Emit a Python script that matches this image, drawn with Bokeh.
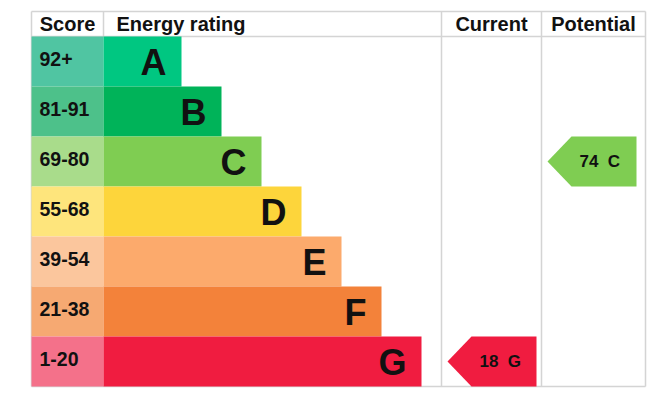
from bokeh.plotting import figure
from bokeh.models import Range1d, ColumnDataSource
from bokeh.embed import file_html
from bokeh.resources import INLINE
from bokeh.core.properties import value

# ---- data ----
bands = ["A", "B", "C", "D", "E", "F", "G"]
score_ranges = ["92+", "81-91", "69-80", "55-68", "39-54", "21-38", "1-20"]
bar_colors = ["#00c781", "#00b359", "#7fcd52", "#fdd53b", "#fcaa6c", "#f3823a", "#f01c40"]
score_colors = ["#50c5a2", "#4dc18a", "#a9dc8b", "#fee57c", "#fbc69d", "#f6a972", "#f4718a"]
headers = ["Score", "Energy rating", "Current", "Potential"]
current_score, current_band = 18, "G"
potential_score, potential_band = 74, "C"

# ---- layout (pixels) ----
TABLE_L, SCORE_R, CUR_L, POT_L, TABLE_R = 31, 103, 441, 541, 645
BAR_MIN, BAR_STEP = 78, 40
ARROW_INSET, ARROW_W, NOTCH = 6, 89, 24
FONT = value("Liberation Sans")
INK = "#111111"
GRID = "#d4d4d4"

p = figure(width=652, height=392, x_range=Range1d(0, 652), y_range=Range1d(6.62, -1.22),
           output_backend="svg", toolbar_location=None, min_border=0)
p.axis.visible = False
p.xgrid.visible = False
p.ygrid.visible = False
p.outline_line_color = None
p.background_fill_color = "white"
p.border_fill_color = "white"

n = len(bands)
top_h, head_b, bot = -1.0, -0.5, n - 0.5

# grid lines
gx0 = [TABLE_L, TABLE_L, TABLE_L, TABLE_L, SCORE_R, CUR_L, POT_L, TABLE_R]
gx1 = [TABLE_R, TABLE_R, TABLE_R, TABLE_L, SCORE_R, CUR_L, POT_L, TABLE_R]
gy0 = [top_h, head_b, bot, top_h, top_h, top_h, top_h, top_h]
gy1 = [top_h, head_b, bot, bot, head_b, bot, bot, bot]
p.segment(gx0, gy0, gx1, gy1, line_color=GRID, line_width=1.5)

rows = list(range(n))
bar_right = [SCORE_R + BAR_MIN + BAR_STEP * i for i in rows]
src = ColumnDataSource(dict(
    row=rows, top=[i - 0.5 for i in rows], bottom=[i + 0.5 for i in rows],
    bar_right=bar_right, letter_x=[r - 15 for r in bar_right],
    band=bands, rng=score_ranges, bc=bar_colors, sc=score_colors,
))
p.quad(left=TABLE_L, right=SCORE_R, top="top", bottom="bottom", fill_color="sc",
       line_color=None, source=src)
p.quad(left=SCORE_R, right="bar_right", top="top", bottom="bottom", fill_color="bc",
       line_color=None, source=src)

p.text(x=TABLE_L + 8, y="row", text="rng", source=src, text_font=FONT, text_font_style="bold",
       text_font_size="19.5px", text_align="left", text_baseline="middle", y_offset=-2.5, text_color=INK)
p.text(x="letter_x", y="row", text="band", source=src, text_font=FONT, text_font_style="bold",
       text_font_size="36px", text_align="right", text_baseline="middle", y_offset=1, text_color=INK)

# headers
hx = [(TABLE_L + SCORE_R) / 2, SCORE_R + 13, (CUR_L + POT_L) / 2, (POT_L + TABLE_R) / 2]
ha = ["center", "left", "center", "center"]
hsrc = ColumnDataSource(dict(x=hx, y=[(top_h + head_b) / 2] * 4, t=headers, a=ha))
p.text(x="x", y="y", text="t", text_align="a", source=hsrc, text_font=FONT, text_font_style="bold",
       text_font_size="20px", text_baseline="middle", y_offset=0, text_color=INK)

# arrows
def arrow(col_left, score, band):
    i = bands.index(band)
    tip = col_left + ARROW_INSET
    right = tip + ARROW_W
    xs = [tip, tip + NOTCH, right, right, tip + NOTCH]
    ys = [i, i - 0.5, i - 0.5, i + 0.5, i + 0.5]
    p.patch(xs, ys, fill_color=bar_colors[i], line_color=None)
    p.text(x=[tip + NOTCH + 8], y=[i], text=[f"{score}\u00a0 {band}"], text_font=FONT,
           text_font_style="bold", text_font_size="17px", text_align="left",
           text_baseline="middle", text_color=INK)

arrow(CUR_L, current_score, current_band)
arrow(POT_L, potential_score, potential_band)

open("out.html", "w").write(file_html(p, INLINE))
